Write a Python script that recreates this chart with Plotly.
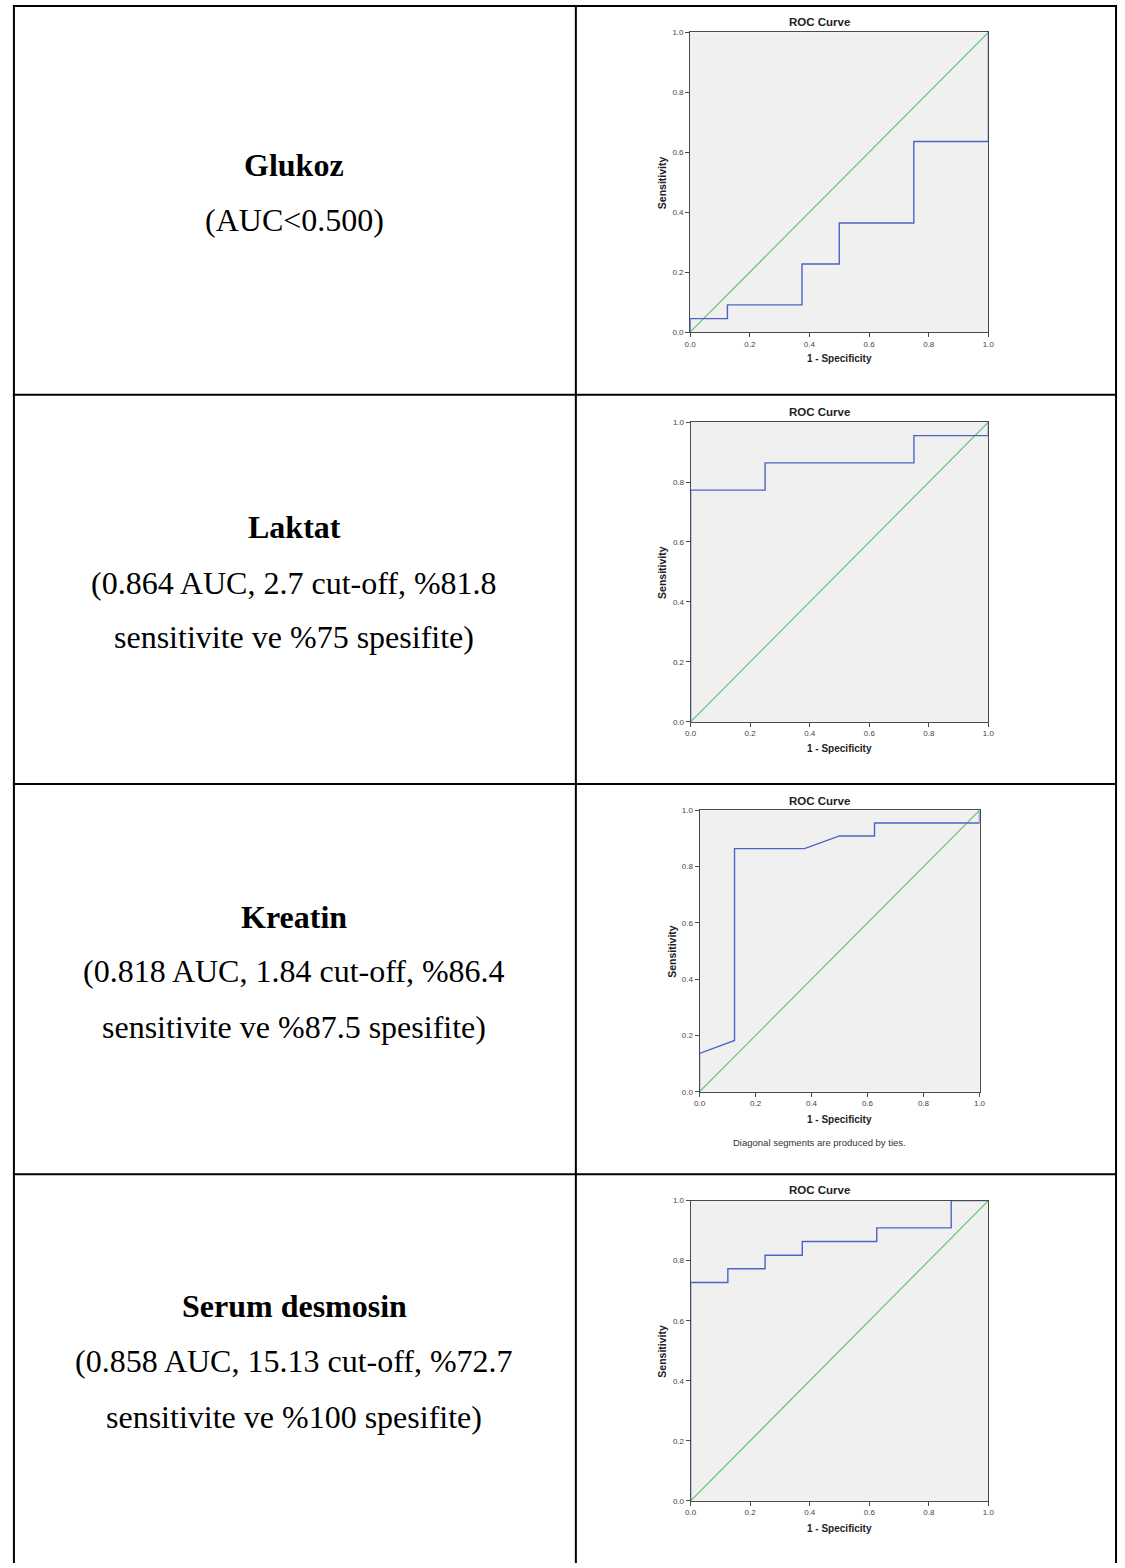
import plotly.graph_objects as go

W, H = 1125, 1568

# ---------------- data ----------------
row_titles = ["Glukoz", "Laktat", "Kreatin", "Serum desmosin"]
row_details = [
    ["(AUC&lt;0.500)"],
    ["(0.864 AUC, 2.7 cut-off, %81.8", "sensitivite ve %75 spesifite)"],
    ["(0.818 AUC, 1.84 cut-off, %86.4", "sensitivite ve %87.5 spesifite)"],
    ["(0.858 AUC, 15.13 cut-off, %72.7", "sensitivite ve %100 spesifite)"],
]

glukoz_fpr = [0, 0, 0.125, 0.125, 0.375, 0.375, 0.5, 0.5, 0.75, 0.75, 1.0, 1.0]
glukoz_tpr = [0, 0.045, 0.045, 0.091, 0.091, 0.227, 0.227, 0.364, 0.364, 0.636, 0.636, 1.0]

laktat_fpr = [0, 0, 0.25, 0.25, 0.75, 0.75, 1.0, 1.0]
laktat_tpr = [0, 0.773, 0.773, 0.864, 0.864, 0.955, 0.955, 1.0]

kreatin_fpr = [0, 0, 0.125, 0.125, 0.375, 0.5, 0.625, 0.625, 1.0, 1.0]
kreatin_tpr = [0, 0.136, 0.182, 0.864, 0.864, 0.909, 0.909, 0.955, 0.955, 1.0]

desmosin_fpr = [0, 0, 0.125, 0.125, 0.25, 0.25, 0.375, 0.375, 0.625, 0.625, 0.875, 0.875, 1.0]
desmosin_tpr = [0, 0.727, 0.727, 0.773, 0.773, 0.818, 0.818, 0.864, 0.864, 0.909, 0.909, 1.0, 1.0]

ref_line = [0, 1]
tick_vals = [0.0, 0.2, 0.4, 0.6, 0.8, 1.0]
tick_text = ["0.0", "0.2", "0.4", "0.6", "0.8", "1.0"]

curves = [(glukoz_fpr, glukoz_tpr), (laktat_fpr, laktat_tpr),
          (kreatin_fpr, kreatin_tpr), (desmosin_fpr, desmosin_tpr)]

# ---------------- layout geometry (pixels) ----------------
# plot area boxes: (left, right, top, bottom)
plot_boxes = [(691.5, 993, 28.5, 330),
              (692, 993, 420.5, 722),
              (701, 984, 811, 1094),
              (692, 993, 1203.5, 1505.5)]
title_y = [18, 410.5, 801.5, 1193]
xlab_y = [357, 749, 1122, 1533]
ylab_x = [663, 663, 673, 663]
text_centers = [[162, 217], [526, 582, 637], [918, 973, 1029], [1310, 1365, 1421]]

def px(x):
    return x / W

def py(y):
    return 1 - y / H

BLUE = "#4F64C2"
GREEN = "#5CC36C"
AX = "#4a4a4a"
SANS = "Liberation Sans, Arial, sans-serif"
SERIF = "Liberation Serif, Times New Roman, serif"

fig = go.Figure()
layout = dict(width=W, height=H, margin=dict(l=0, r=0, t=0, b=0),
              paper_bgcolor="white", showlegend=False)

annotations = []
shapes = []

for i, ((fx, ty), (l, r, t, b)) in enumerate(zip(curves, plot_boxes)):
    n = "" if i == 0 else str(i + 1)
    xa, ya = "x" + n, "y" + n
    fig.add_trace(go.Scatter(x=ref_line, y=ref_line, mode="lines",
                             line=dict(color=GREEN, width=1.1),
                             xaxis=xa, yaxis=ya, hoverinfo="skip"))
    fig.add_trace(go.Scatter(x=fx, y=ty, mode="lines",
                             line=dict(color=BLUE, width=1.4),
                             xaxis=xa, yaxis=ya))
    common = dict(range=[0, 1], showgrid=False, zeroline=False,
                  showline=True, mirror=True, linecolor=AX, linewidth=1,
                  ticks="outside", ticklen=4, tickcolor=AX, tickwidth=1,
                  tickvals=tick_vals, ticktext=tick_text,
                  tickfont=dict(family=SANS, size=8, color="#444"),
                  fixedrange=True)
    layout["xaxis" + n] = dict(domain=[px(l), px(r)], anchor=ya, **common)
    layout["yaxis" + n] = dict(domain=[py(b), py(t)], anchor=xa, ticklabelstandoff=0, **common)
    annotations.append(dict(text="<b>ROC Curve</b>", x=px(822), y=py(title_y[i]),
                            xref="paper", yref="paper", showarrow=False,
                            xanchor="center", yanchor="middle",
                            font=dict(family=SANS, size=11.5, color="#222")))
    annotations.append(dict(text="<b>1 - Specificity</b>", x=px((l + r) / 2), y=py(xlab_y[i]),
                            xref="paper", yref="paper", showarrow=False,
                            xanchor="center", yanchor="middle",
                            font=dict(family=SANS, size=10, color="#222")))
    annotations.append(dict(text="<b>Sensitivity</b>", x=px(ylab_x[i]), y=py((t + b) / 2),
                            xref="paper", yref="paper", showarrow=False, textangle=-90,
                            xanchor="center", yanchor="middle",
                            font=dict(family=SANS, size=10.5, color="#222")))

annotations.append(dict(text="Diagonal segments are produced by ties.", x=px(822), y=py(1145),
                        xref="paper", yref="paper", showarrow=False,
                        xanchor="center", yanchor="middle",
                        font=dict(family=SANS, size=9.5, color="#333")))

# left column texts
for i, title in enumerate(row_titles):
    lines = ["<b>" + title + "</b>"] + row_details[i]
    for j, line in enumerate(lines):
        annotations.append(dict(text=line, x=px(291.5), y=py(text_centers[i][j]),
                                xref="paper", yref="paper", showarrow=False,
                                xanchor="center", yanchor="middle",
                                font=dict(family=SERIF, size=32, color="black")))

# table borders
def hline(y, x0, x1):
    shapes.append(dict(type="line", xref="paper", yref="paper",
                       x0=px(x0), x1=px(x1), y0=py(y), y1=py(y),
                       line=dict(color="black", width=2)))

def vline(x, y0, y1):
    shapes.append(dict(type="line", xref="paper", yref="paper",
                       x0=px(x), x1=px(x), y0=py(y0), y1=py(y1),
                       line=dict(color="black", width=2)))

for yy in [2, 393, 784.5, 1177]:
    hline(yy, 7, 1123)
for xx in [8, 576, 1122]:
    vline(xx, 1, H)

layout["annotations"] = annotations
layout["shapes"] = shapes
layout["plot_bgcolor"] = "#F0F0F0"
fig.update_layout(**layout)
fig.write_html("out.html",
               config={"displayModeBar": False},
               post_script="document.body.style.margin='0';document.body.style.overflow='hidden';")
